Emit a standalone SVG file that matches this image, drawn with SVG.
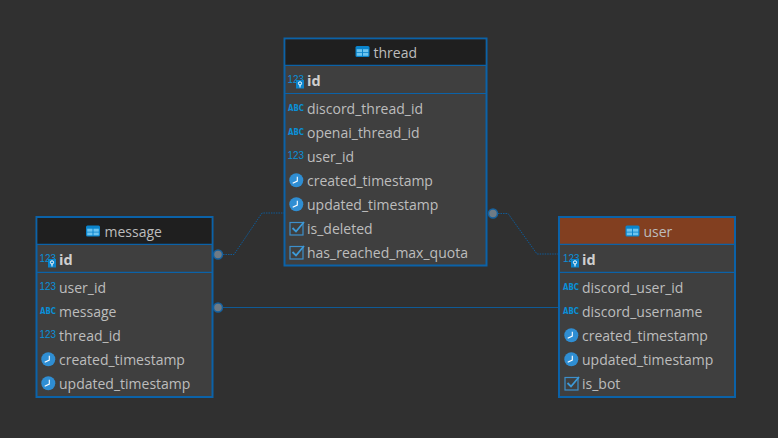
<svg xmlns="http://www.w3.org/2000/svg" width="778" height="438" viewBox="0 0 778 438">
<style>
.box{fill:#3f3f3f;stroke:#0b62a8;stroke-width:2}
.hd{fill:#1f1f1f}
.sep{stroke:#0b62a8;stroke-width:1.2;fill:none}
.t{font-family:"Open Sans","Noto Sans",sans-serif;font-size:14px;fill:#bdbdbd}
.b{font-weight:700;font-size:14.5px;fill:#cfcfcf}
.n{font-family:"Liberation Sans",sans-serif;font-size:11px;fill:#0a8fd8}
.a{font-family:"DejaVu Sans",sans-serif;font-size:8.500px;font-weight:700;fill:#0a8fd8}
.c{fill:none;stroke:#0f5a96;stroke-width:1}
.d{stroke-dasharray:1.5 1}
.dot{fill:#6f7b85;stroke:#15619f;stroke-width:1.5}
</style>
<defs>
<g id="tbl"><rect x="0" y="0" width="14" height="11" rx="1.5" fill="#0a84cc"/><rect x="1.200" y="3.200" width="5.300" height="3" fill="#6cc4ef"/><rect x="7.500" y="3.200" width="5.300" height="3" fill="#6cc4ef"/><rect x="1.200" y="7" width="5.300" height="2.800" fill="#6cc4ef"/><rect x="7.500" y="7" width="5.300" height="2.800" fill="#6cc4ef"/></g>
<g id="key"><rect x="0" y="0" width="8" height="8.500" fill="#0a84cc"/><circle cx="4" cy="3.400" r="1.600" fill="none" stroke="#fff" stroke-width="1"/><path d="M4 5V7.500" stroke="#fff" stroke-width="1"/></g>
<g id="clk"><circle cx="0" cy="0" r="7" fill="#2f8ed3"/><path d="M1 -3.600V0.800L-3.600 3" fill="none" stroke="#fff" stroke-width="1.100"/></g>
<g id="chk"><rect x="0.500" y="1.500" width="13" height="12.500" fill="none" stroke="#3d8fcb" stroke-width="1.200"/><path d="M3 7L6.500 10.500L14.500 1" fill="none" stroke="#3d9ad8" stroke-width="1.800"/></g>
</defs>
<rect width="778" height="438" fill="#303030"/>
<g id="connectors">
<path class="c d" d="M218 254.500H234L262 213H284"/>
<path class="c" d="M218 307.500H558"/>
<path class="c d" d="M493 213.500H508L537 254H558"/>
<circle class="dot" cx="218" cy="254.500" r="4.500"/>
<circle class="dot" cx="218" cy="307.500" r="4.500"/>
<circle class="dot" cx="493" cy="213.500" r="4.500"/>
</g>
<g id="thread">
<rect class="box" x="284.500" y="38.500" width="202" height="227"/>
<rect class="hd" x="285.500" y="39.500" width="200" height="25.500"/>
<path class="sep" d="M285 65.300H486M285 93.500H486"/>
<use href="#tbl" x="355.500" y="46"/>
<text class="t" x="373.500" y="58">thread</text>
<text class="n" x="287.500" y="83" textLength="16.500" lengthAdjust="spacingAndGlyphs">123</text><use href="#key" x="296" y="80"/>
<text class="t b" x="307" y="86">id</text>
<text class="a" x="288" y="111" textLength="16" lengthAdjust="spacingAndGlyphs">ABC</text><text class="t" x="307" y="114">discord_thread_id</text>
<text class="a" x="288" y="135" textLength="16" lengthAdjust="spacingAndGlyphs">ABC</text><text class="t" x="307" y="138">openai_thread_id</text>
<text class="n" x="287.500" y="159" textLength="16.500" lengthAdjust="spacingAndGlyphs">123</text><text class="t" x="307" y="162">user_id</text>
<use href="#clk" x="296.300" y="180.300"/><text class="t" x="307" y="186">created_timestamp</text>
<use href="#clk" x="296.300" y="204.300"/><text class="t" x="307" y="210">updated_timestamp</text>
<use href="#chk" x="289.500" y="221"/><text class="t" x="307" y="234">is_deleted</text>
<use href="#chk" x="289.500" y="245"/><text class="t" x="307" y="258">has_reached_max_quota</text>
</g>
<g id="message">
<rect class="box" x="36.500" y="217" width="176" height="180"/>
<rect class="hd" x="37.500" y="218" width="174" height="26"/>
<path class="sep" d="M37 244.300H212M37 272.300H212"/>
<use href="#tbl" x="86" y="225.500"/>
<text class="t" x="104.500" y="237">message</text>
<text class="n" x="39.500" y="262" textLength="16.500" lengthAdjust="spacingAndGlyphs">123</text><use href="#key" x="48" y="259"/>
<text class="t b" x="59" y="265">id</text>
<text class="n" x="39.500" y="290" textLength="16.500" lengthAdjust="spacingAndGlyphs">123</text><text class="t" x="59" y="293">user_id</text>
<text class="a" x="40" y="314" textLength="16" lengthAdjust="spacingAndGlyphs">ABC</text><text class="t" x="59" y="317">message</text>
<text class="n" x="39.500" y="338" textLength="16.500" lengthAdjust="spacingAndGlyphs">123</text><text class="t" x="59" y="341">thread_id</text>
<use href="#clk" x="48.300" y="359.300"/><text class="t" x="59" y="365">created_timestamp</text>
<use href="#clk" x="48.300" y="383.300"/><text class="t" x="59" y="389">updated_timestamp</text>
</g>
<g id="user">
<rect class="box" x="559" y="217" width="176" height="180"/>
<rect x="560" y="218" width="174" height="26" fill="#823f20"/>
<path class="sep" d="M559.500 244.300H734.500M559.500 272.300H734.500"/>
<use href="#tbl" x="625.500" y="225.500"/>
<text class="t" x="643.500" y="237">user</text>
<text class="n" x="563" y="262" textLength="16.500" lengthAdjust="spacingAndGlyphs">123</text><use href="#key" x="571" y="259"/>
<text class="t b" x="582" y="265">id</text>
<text class="a" x="563" y="290" textLength="16" lengthAdjust="spacingAndGlyphs">ABC</text><text class="t" x="582" y="293">discord_user_id</text>
<text class="a" x="563" y="314" textLength="16" lengthAdjust="spacingAndGlyphs">ABC</text><text class="t" x="582" y="317">discord_username</text>
<use href="#clk" x="571.300" y="335.300"/><text class="t" x="582" y="341">created_timestamp</text>
<use href="#clk" x="571.300" y="359.300"/><text class="t" x="582" y="365">updated_timestamp</text>
<use href="#chk" x="564.500" y="376"/><text class="t" x="582" y="389">is_bot</text>
</g>
</svg>
